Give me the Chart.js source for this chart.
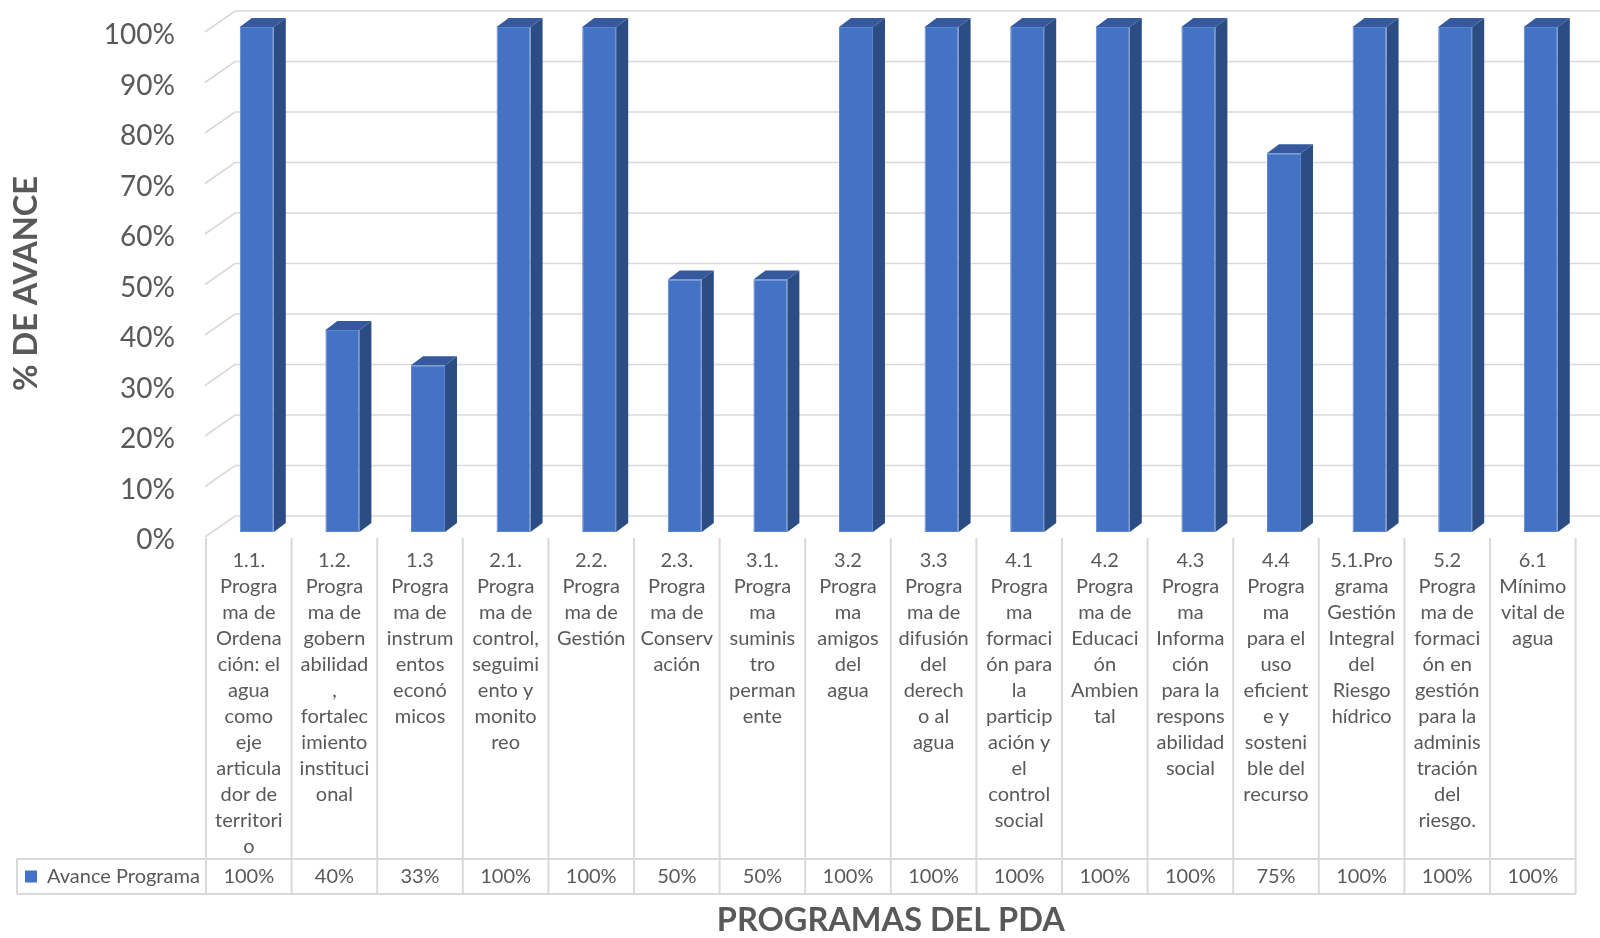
<!DOCTYPE html>
<html lang="es">
<head>
<meta charset="utf-8">
<title>Avance Programas del PDA</title>
<script src="https://cdn.jsdelivr.net/npm/chart.js@4.4.1/dist/chart.umd.min.js"></script>
<style>
  html, body { margin: 0; padding: 0; background: #fff; }
  #contenedor { width: 1600px; height: 938px; position: relative; }
</style>
</head>
<body>
<div id="contenedor"><canvas id="grafica"></canvas></div>
<script>
// etiquetas de los programas, partidas en renglones como en la tabla original
const programas = [
    ["1.1.", "Progra", "ma de", "Ordena", "ción: el", "agua", "como", "eje", "articula", "dor de", "territori", "o"],
    ["1.2.", "Progra", "ma de", "gobern", "abilidad", ",", "fortalec", "imiento", "instituci", "onal"],
    ["1.3", "Progra", "ma de", "instrum", "entos", "econó", "micos"],
    ["2.1.", "Progra", "ma de", "control,", "seguimi", "ento y", "monito", "reo"],
    ["2.2.", "Progra", "ma de", "Gestión"],
    ["2.3.", "Progra", "ma de", "Conserv", "ación"],
    ["3.1.", "Progra", "ma", "suminis", "tro", "perman", "ente"],
    ["3.2", "Progra", "ma", "amigos", "del", "agua"],
    ["3.3", "Progra", "ma de", "difusión", "del", "derech", "o al", "agua"],
    ["4.1", "Progra", "ma", "formaci", "ón para", "la", "particip", "ación y", "el", "control", "social"],
    ["4.2", "Progra", "ma de", "Educaci", "ón", "Ambien", "tal"],
    ["4.3", "Progra", "ma", "Informa", "ción", "para la", "respons", "abilidad", "social"],
    ["4.4", "Progra", "ma", "para el", "uso", "eficient", "e y", "sosteni", "ble del", "recurso"],
    ["5.1.Pro", "grama", "Gestión", "Integral", "del", "Riesgo", "hídrico"],
    ["5.2", "Progra", "ma de", "formaci", "ón en", "gestión", "para la", "adminis", "tración", "del", "riesgo."],
    ["6.1", "Mínimo", "vital de", "agua"]
];
const avance = [100, 40, 33, 100, 100, 50, 50, 100, 100, 100, 100, 100, 75, 100, 100, 100];
const etiquetasY = ["0%", "10%", "20%", "30%", "40%", "50%", "60%", "70%", "80%", "90%", "100%"];
const nombreSerie = "Avance Programa";
const tituloY = "% DE AVANCE";
const tituloX = "PROGRAMAS DEL PDA";

const gris = "#595959";
const lineaGris = "#D9D9D9";
const azul = "#4472C4";
const azulLado = "#2C4C84";
const azulTapa = "#35599C";
const fuente = "Lato, 'Open Sans', sans-serif";
const despBarra = 8;   // la barra esta corrida a la derecha de su columna
const profX = 12, profY = 9; // profundidad de la barra

const efecto3D = {
    id: "efecto3D",
    beforeDatasetsDraw(chart) {
        const { ctx, chartArea, scales: { y } } = chart;
        ctx.save();
        ctx.strokeStyle = lineaGris;
        ctx.lineWidth = 1.6;
        y.ticks.forEach(t => {
            const py = y.getPixelForValue(t.value);
            ctx.beginPath();
            ctx.moveTo(chartArea.left - 9, py + 5);
            ctx.lineTo(chartArea.left + 21, py - 16);
            ctx.lineTo(chart.width, py - 16);
            ctx.stroke();
        });
        ctx.restore();
    },
    afterDatasetsDraw(chart) {
        const ctx = chart.ctx;
        ctx.save();
        chart.getDatasetMeta(0).data.forEach(barra => {
            const izq = barra.x - barra.width / 2;
            const der = barra.x + barra.width / 2;
            const arriba = barra.y, abajo = barra.base;
            // cara lateral
            ctx.fillStyle = azulLado;
            ctx.beginPath();
            ctx.moveTo(der, arriba);
            ctx.lineTo(der + profX, arriba - profY);
            ctx.lineTo(der + profX, abajo - profY);
            ctx.lineTo(der, abajo);
            ctx.closePath();
            ctx.fill();
            // tapa
            ctx.fillStyle = azulTapa;
            ctx.beginPath();
            ctx.moveTo(izq, arriba);
            ctx.lineTo(izq + profX, arriba - profY);
            ctx.lineTo(der + profX, arriba - profY);
            ctx.lineTo(der, arriba);
            ctx.closePath();
            ctx.fill();
        });
        ctx.restore();
    },
    afterDraw(chart) {
        const { ctx, chartArea, scales: { x } } = chart;
        const n = programas.length;
        const anchoCol = (x.right - x.left) / n;
        const inicio = x.left - despBarra;
        const fin = inicio + n * anchoCol;
        const filaArriba = x.bottom;
        const filaAbajo = filaArriba + 35;
        const izqLeyenda = 17;

        ctx.save();
        ctx.strokeStyle = lineaGris;
        ctx.lineWidth = 2;
        ctx.beginPath();
        for (let i = 0; i <= n; i++) {
            const px = inicio + i * anchoCol;
            ctx.moveTo(px, chartArea.bottom + 6);
            ctx.lineTo(px, filaAbajo);
        }
        ctx.moveTo(izqLeyenda, filaArriba);
        ctx.lineTo(fin, filaArriba);
        ctx.moveTo(izqLeyenda, filaAbajo);
        ctx.lineTo(fin, filaAbajo);
        ctx.moveTo(izqLeyenda, filaArriba);
        ctx.lineTo(izqLeyenda, filaAbajo);
        ctx.stroke();

        // fila de valores
        const medio = (filaArriba + filaAbajo) / 2;
        ctx.fillStyle = gris;
        ctx.font = "20px " + fuente;
        ctx.textAlign = "center";
        ctx.textBaseline = "middle";
        avance.forEach((v, i) => {
            ctx.fillText(v + "%", inicio + (i + 0.5) * anchoCol, medio);
        });

        // leyenda
        ctx.fillStyle = azul;
        ctx.fillRect(25, medio - 6, 12, 12);
        ctx.fillStyle = gris;
        ctx.textAlign = "left";
        ctx.fillText(nombreSerie, 47, medio);

        // titulos
        ctx.font = "bold 32.5px " + fuente;
        ctx.textAlign = "center";
        ctx.fillText(tituloX, (inicio + fin) / 2, 921);
        ctx.translate(27, (chartArea.top + chartArea.bottom) / 2 + 4);
        ctx.rotate(-Math.PI / 2);
        ctx.fillText(tituloY, 0, 0);
        ctx.restore();
    }
};

const ctx = document.getElementById("grafica").getContext("2d");
const grafica = new Chart(ctx, {
    type: "bar",
    data: {
        labels: programas,
        datasets: [{
            label: nombreSerie,
            data: avance,
            backgroundColor: azul,
            borderColor: "#5A86D0",
            borderWidth: 1,
            borderSkipped: false,
            categoryPercentage: 1,
            barPercentage: 0.397
        }]
    },
    options: {
        responsive: true,
        maintainAspectRatio: false,
        animation: false,
        layout: { padding: { top: 27, right: 16.4, bottom: 79, left: 0 } },
        plugins: {
            legend: { display: false },
            tooltip: { enabled: false }
        },
        scales: {
            x: {
                grid: { display: false, drawTicks: false },
                border: { display: false },
                ticks: {
                    color: gris,
                    font: { family: fuente, size: 20, lineHeight: "26px" },
                    padding: 16,
                    labelOffset: -despBarra,
                    maxRotation: 0,
                    minRotation: 0,
                    autoSkip: false
                },
                afterFit(scale) { scale.height = 327; }
            },
            y: {
                min: 0,
                max: 100,
                grid: { display: false, drawTicks: false },
                border: { display: false },
                ticks: {
                    stepSize: 10,
                    color: gris,
                    font: { family: fuente, size: 28 },
                    padding: 39,
                    labelOffset: 8,
                    callback: (v, i) => etiquetasY[i]
                },
                afterFit(scale) {
                    scale.width = 214;
                    scale.paddingTop = 0;
                    scale.paddingBottom = 0;
                }
            }
        }
    },
    plugins: [efecto3D]
});
</script>
</body>
</html>
